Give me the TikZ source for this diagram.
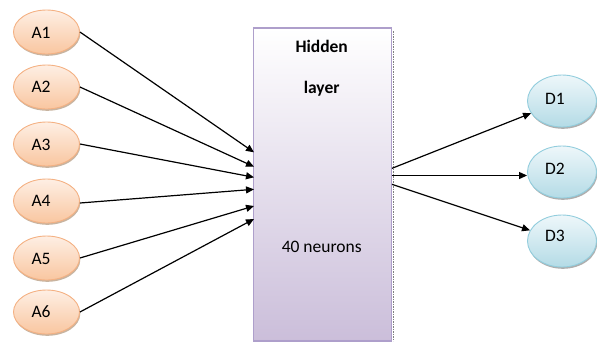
\documentclass[tikz,border=0pt]{standalone}
\usepackage{fontspec}
\setmainfont{Carlito}
\usetikzlibrary{arrows.meta,shapes.geometric,shadows}

\definecolor{inLine}{HTML}{F4B183}
\definecolor{inTop}{HTML}{FEEFE4}
\definecolor{inBot}{HTML}{F9C6A0}
\definecolor{outLine}{HTML}{92CDDD}
\definecolor{outTop}{HTML}{EEF7FA}
\definecolor{outBot}{HTML}{B4DBE6}
\definecolor{hidLine}{HTML}{AE9FCB}
\definecolor{hidBot}{HTML}{CBBEDA}

\begin{document}
\begin{tikzpicture}[x=1bp,y=-1bp,
  lbl/.style={font=\fontsize{17.5bp}{20bp}\selectfont, inner sep=0pt, text=black},
  blbl/.style={lbl, font=\fontsize{17.5bp}{20bp}\selectfont\bfseries},
  inell/.style={ellipse, minimum width=66bp, minimum height=44bp, inner sep=0pt,
    draw=inLine, line width=0.9bp, top color=inTop, bottom color=inBot,
    drop shadow={shadow xshift=0.8bp, shadow yshift=-1.8bp, fill=brown!70!black, opacity=0.45}},
  outell/.style={ellipse, minimum width=69bp, minimum height=52bp, inner sep=0pt,
    draw=outLine, line width=0.9bp, top color=outTop, bottom color=outBot,
    drop shadow={shadow xshift=0.8bp, shadow yshift=-1.8bp, fill=black!70, opacity=0.45}},
  hidbox/.style={rectangle, minimum width=138bp, minimum height=313bp, inner sep=0pt,
    draw=hidLine, line width=1.1bp, top color=white, bottom color=hidBot},
  arr/.style={-{Triangle[length=8bp,width=7bp]}, line width=1.2bp, black}
]
\useasboundingbox (0,0) rectangle (597,342);

% input neurons
\node[inell] (a1) at (46.5,32) {};
\node[inell] (a2) at (46.5,87) {};
\node[inell] (a3) at (46.5,144) {};
\node[inell] (a4) at (46.5,201) {};
\node[inell] (a5) at (46.5,258) {};
\node[inell] (a6) at (46.5,312) {};
\node[lbl] (ta1) at (41,33) {A1};
\node[lbl] (ta2) at (41,87) {A2};
\node[lbl] (ta3) at (41,145) {A3};
\node[lbl] (ta4) at (41,201) {A4};
\node[lbl] (ta5) at (41,259) {A5};
\node[lbl] (ta6) at (41,312) {A6};

% hidden layer block with its edge shadow
\draw[gray, line width=0.9bp, dash pattern=on 1.5bp off 1bp] (393.5,31) -- (393.5,341);
\node[hidbox] (hid) at (322.5,184.5) {};
\node[blbl] (th1) at (321.7,46.7) {Hidden};
\node[blbl] (th2) at (321.7,88.5) {layer};
\node[lbl] (th3) at (321.7,246.7) {40 neurons};

% output neurons
\node[outell] (d1) at (562,101) {};
\node[outell] (d2) at (562,172) {};
\node[outell] (d3) at (562,241) {};
\node[lbl] (td1) at (555,98.5) {D1};
\node[lbl] (td2) at (555,168.5) {D2};
\node[lbl] (td3) at (555,235.5) {D3};

% arrival points on the hidden block
\coordinate (t1) at (254,152.3);
\coordinate (t2) at (254,166.7);
\coordinate (t3) at (254,177.3);
\coordinate (t4) at (254,189.3);
\coordinate (t5) at (254,206);
\coordinate (t6) at (254,219);
% departure points on the hidden block
\coordinate (s1) at (392,168.3);
\coordinate (s2) at (392,175.5);
\coordinate (s3) at (392,184.3);

\draw[arr] (a1.east) -- (t1);
\draw[arr] (a2.east) -- (t2);
\draw[arr] (a3.east) -- (t3);
\draw[arr] ([yshift=-2bp]a4.east) -- (t4);
\draw[arr] (a5.east) -- (t5);
\draw[arr] (a6.east) -- (t6);

\draw[arr] (s1) -- (d1);
\draw[arr] (s2) -- (d2.west |- s2);
\draw[arr] (s3) -- (d3);
\end{tikzpicture}
\end{document}
